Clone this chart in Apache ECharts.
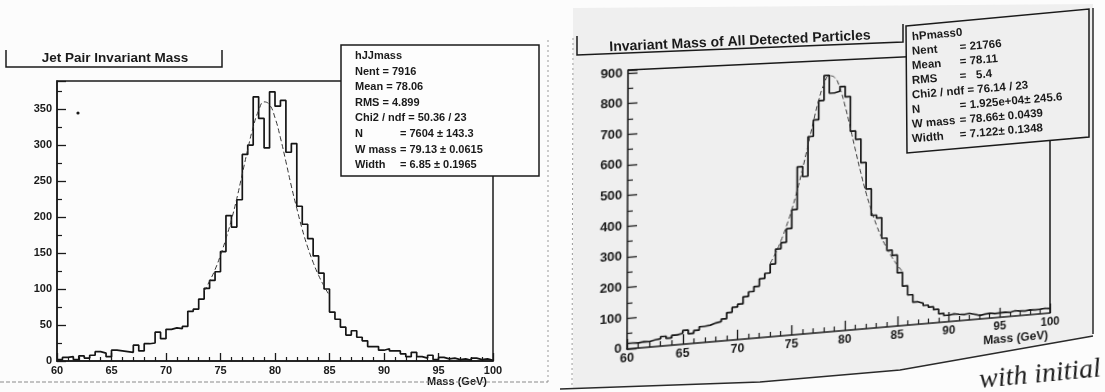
<!DOCTYPE html>
<html>
<head>
<meta charset="utf-8">
<title>Invariant mass histograms</title>
<script src="https://cdn.jsdelivr.net/npm/echarts@6/dist/echarts.min.js"></script>
<style>
  html, body { margin: 0; padding: 0; background: #fcfcfc; overflow: hidden; }
  #page, #right { position: absolute; left: 0; top: 0; width: 1105px; height: 392px; }
  #right { transform-origin: 0 0; }
  #caption {
    position: absolute; left: 980px; top: 365px; white-space: nowrap;
    font: italic 28px/28px 'Liberation Serif', 'DejaVu Serif', serif; color: #1c1c1c;
    transform-origin: 0 23px; transform: rotate(-5.5deg);
  }
</style>
</head>
<body>
<div id="page"></div>
<div id="right"></div>
<div id="caption">with initial</div>
<script>
// both histograms: 80 bins of 0.5 GeV from 60 to 100
const binStart = 60;
const binWidth = 0.5;

// hJJmass - jet pair invariant mass, entries per bin
const jjCounts = [
  2, 5, 6, 2, 7, 4, 8, 13, 11, 6,
  15, 14, 13, 12, 22, 14, 24, 25, 40, 31,
  44, 46, 45, 48, 69, 72, 86, 101, 112, 124,
  152, 202, 186, 224, 287, 300, 367, 337, 296, 374,
  354, 362, 290, 302, 215, 190, 170, 146, 122, 100,
  68, 58, 47, 36, 42, 33, 28, 20, 20, 15,
  17, 14, 14, 10, 6, 12, 6, 4, 8, 2,
  5, 3, 4, 2, 3, 1, 4, 2, 3, 1
];
// fitted curve drawn over hJJmass
const jjFitMass = [73.5, 74, 74.5, 75, 75.5, 76, 76.5, 77, 77.5, 78, 78.5, 79,
                   79.5, 80, 80.5, 81, 81.5, 82, 82.5, 83, 83.5, 84, 84.5, 85];
const jjFitValue = [97, 111, 127, 147, 170, 196, 226, 260, 294, 325, 348, 360,
                    356, 338, 310, 277, 243, 212, 183, 158, 137, 119, 104, 91];

// hPmass0 - invariant mass of all detected particles, entries per bin
const allCounts = [
  18, 17, 19, 18, 22, 24, 31, 24, 32, 36,
  45, 33, 42, 53, 55, 61, 64, 72, 92, 108,
  117, 140, 155, 171, 195, 212, 241, 290, 310, 355,
  417, 559, 526, 658, 713, 777, 860, 800, 805, 820,
  785, 668, 640, 560, 470, 380, 370, 300, 258, 240,
  180, 133, 102, 76, 70, 62, 55, 45, 30, 22,
  25, 22, 20, 22, 18, 12, 15, 17, 14, 15,
  16, 14, 18, 16, 14, 17, 15, 16, 18, 15
];
const allFitMass = [73, 73.5, 74, 74.5, 75, 75.5, 76, 76.5, 77, 77.5, 78, 78.5, 79,
                    79.5, 80, 80.5, 81, 81.5, 82, 82.5, 83, 83.5, 84, 84.5, 85, 85.5];
const allFitValue = [244, 277, 317, 364, 418, 481, 552, 629, 707, 778, 831, 858, 852,
                     815, 753, 679, 601, 526, 457, 398, 346, 302, 265, 233, 206, 183];

const jjStats = ['hJJmass', 'Nent = 7916', 'Mean = 78.06', 'RMS = 4.899', 'Chi2 / ndf = 50.36 / 23',
                 'N\t= 7604 ± 143.3', 'W mass\t= 79.13 ± 0.0615', 'Width\t= 6.85 ± 0.1965'];
const allStats = ['hPmass0', 'Nent\t= 21766', 'Mean\t= 78.11', 'RMS\t=   5.4', 'Chi2 / ndf = 76.14 / 23',
                  'N\t= 1.925e+04± 245.6', 'W mass\t= 78.66± 0.0439', 'Width\t= 7.122± 0.1348'];

const FONT = "'Liberation Sans', Arial, sans-serif";
const INK = '#1a1a1a';
const PAD = '#efefef';

function steps(counts) {
  const pts = counts.map((c, i) => [binStart + i * binWidth, c]);
  pts.push([binStart + counts.length * binWidth, counts[counts.length - 1]]);
  return pts;
}
function pairs(xs, ys) { return xs.map((x, i) => [x, ys[i]]); }

function massAxis(fs, tick, minor) {
  return {
    type: 'value', min: 60, max: 100, interval: 5,
    axisLine: { lineStyle: { color: INK, width: 1.5 } },
    axisTick: { inside: true, length: tick, lineStyle: { color: INK, width: 1.3 } },
    minorTick: { show: true, splitNumber: 5, length: minor, lineStyle: { color: INK, width: 1.2 } },
    axisLabel: { color: INK, fontFamily: FONT, fontWeight: 'bold', fontSize: fs, margin: 4 },
    splitLine: { show: false }
  };
}
function countAxis(max, step, fs) {
  return {
    type: 'value', min: 0, max: max, interval: step,
    axisLine: { show: true, lineStyle: { color: INK, width: 1.5 } },
    axisTick: { inside: true, length: 9, lineStyle: { color: INK, width: 1.3 } },
    minorTick: { show: true, splitNumber: 2, length: 5, lineStyle: { color: INK, width: 1.2 } },
    axisLabel: { color: INK, fontFamily: FONT, fontWeight: 'bold', fontSize: fs, margin: 5, showMaxLabel: false },
    splitLine: { show: false }
  };
}
function histSeries(counts) {
  return { type: 'line', step: 'end', data: steps(counts), symbol: 'none',
           lineStyle: { color: '#151515', width: 1.7 }, z: 3 };
}
function fitSeries(xs, ys) {
  return { type: 'line', smooth: true, data: pairs(xs, ys), symbol: 'none',
           lineStyle: { color: '#333', width: 1, type: [5, 3] }, z: 4 };
}

// stats box lines; '\t' puts the value at a fixed column
function statsText(lines, x, y0, dy, tab, size, rot) {
  const out = [];
  const font = 'bold ' + size + 'px ' + FONT;
  lines.forEach((line, i) => {
    const ax = x, ay = y0 + i * dy;
    const parts = line.split('\t');
    const mk = (t, px, py) => ({
      type: 'text', x: px, y: py, rotation: rot, z: 30,
      style: { text: t, x: 0, y: 0, font: font, fill: INK,
               textAlign: 'left', textVerticalAlign: 'middle', align: 'left', verticalAlign: 'middle' }
    });
    out.push(mk(parts[0], ax, ay));
    if (parts.length > 1) {
      out.push(mk(parts[1], ax + tab * Math.cos(rot), ay - tab * Math.sin(rot)));
    }
  });
  return out;
}
function poly(points, stroke, width, fill, dash, z) {
  return {
    type: fill ? 'polygon' : 'polyline', z: z === undefined ? 20 : z,
    shape: { points: points },
    style: { stroke: stroke, lineWidth: width, fill: fill || null, lineDash: dash || null }
  };
}

// ---------- page: left histogram + all drawn decorations ----------
const page = echarts.init(document.getElementById('page'));
page.setOption({
  animation: false,
  grid: { left: 57, top: 81, width: 436, height: 280, show: true,
          borderColor: INK, borderWidth: 1.5, backgroundColor: 'transparent' },
  xAxis: Object.assign(massAxis(11, 8, 4), {
    name: 'Mass (GeV)', nameLocation: 'end', nameGap: -6,
    nameTextStyle: { color: INK, fontFamily: FONT, fontWeight: 'bold', fontSize: 11,
                     align: 'right', verticalAlign: 'top', padding: [15, 0, 0, 0] }
  }),
  yAxis: countAxis(389, 50, 11),
  series: [histSeries(jjCounts), fitSeries(jjFitMass, jjFitValue)],
  graphic: { elements: [
    // right pad background and borders
    poly([[573, 8], [1093, 4], [1093, 336], [900, 370], [760, 382], [573, 388]], null, 0, PAD, null, 0),
    poly([[1093, 8], [1093, 334]], '#2a2a2a', 1.5),
    poly([[560, 389], [760, 382], [900, 370], [1093, 336]], '#2a2a2a', 1.3),
    poly([[573, 38], [572, 388]], '#9a9a9a', 1, null, [2, 3]),
    // left pad borders
    poly([[548, 40], [548, 382]], '#9a9a9a', 1, null, [2, 3]),
    poly([[0, 382], [548, 382]], '#8a8a8a', 1, null, [4, 2]),
    // left title
    poly([[6, 50], [6, 67], [222, 67], [222, 50]], INK, 1.5),
    { type: 'text', x: 115, y: 58, z: 30,
      style: { text: 'Jet Pair Invariant Mass', font: 'bold 13.5px ' + FONT, fill: INK,
               textAlign: 'center', textVerticalAlign: 'middle', align: 'center', verticalAlign: 'middle' } },
    // left stats box
    { type: 'rect', z: 25, shape: { x: 341, y: 45, width: 198, height: 131 },
      style: { fill: '#fdfdfd', stroke: INK, lineWidth: 1.5 } },
    ...statsText(jjStats, 355, 56, 15.6, 45, 11, 0),
    { type: 'circle', z: 20, shape: { cx: 78, cy: 113, r: 1.6 }, style: { fill: INK } },
    // right frame top and right edge (left and bottom are the axes)
    poly([[628, 70], [1050, 50], [1050, 313]], INK, 1.5),
    // right title
    poly([[577, 36], [577, 55], [903, 42], [903, 24]], INK, 1.5),
    { type: 'text', x: 740, y: 41.5, rotation: 0.045, z: 30,
      style: { text: 'Invariant Mass of All Detected Particles', font: 'bold 14px ' + FONT, fill: INK,
               textAlign: 'center', textVerticalAlign: 'middle', align: 'center', verticalAlign: 'middle' } },
    // right stats box
    poly([[906, 26], [1089, 9], [1089, 137], [907, 153]], INK, 1.5, PAD, null, 25),
    ...statsText(allStats, 912, 37, 14.6, 48, 11.5, 0.086)
  ] }
});

// ---------- right histogram, warped like the scanned page ----------
const src = { left: 628, top: 70, width: 422, height: 279 };
const dst = [[628, 70], [1050, 50], [1050, 313], [627, 349]];

function squareToQuad(q) {
  const [x0, y0] = q[0], [x1, y1] = q[1], [x2, y2] = q[2], [x3, y3] = q[3];
  const dx1 = x1 - x2, dx2 = x3 - x2, dx3 = x0 - x1 + x2 - x3;
  const dy1 = y1 - y2, dy2 = y3 - y2, dy3 = y0 - y1 + y2 - y3;
  const den = dx1 * dy2 - dx2 * dy1;
  const g = (dx3 * dy2 - dx2 * dy3) / den;
  const h = (dx1 * dy3 - dx3 * dy1) / den;
  return [[x1 - x0 + g * x1, x3 - x0 + h * x3, x0],
          [y1 - y0 + g * y1, y3 - y0 + h * y3, y0],
          [g, h, 1]];
}
function mul3(a, b) {
  return a.map((row) => [0, 1, 2].map((j) => row[0] * b[0][j] + row[1] * b[1][j] + row[2] * b[2][j]));
}
const S = [[1 / src.width, 0, -src.left / src.width], [0, 1 / src.height, -src.top / src.height], [0, 0, 1]];
const H = mul3(squareToQuad(dst), S);
document.getElementById('right').style.transform = 'matrix3d(' + [
  H[0][0], H[1][0], 0, H[2][0],
  H[0][1], H[1][1], 0, H[2][1],
  0, 0, 1, 0,
  H[0][2], H[1][2], 0, H[2][2]
].join(',') + ')';

const right = echarts.init(document.getElementById('right'));
right.setOption({
  animation: false,
  grid: Object.assign({ show: false }, src),
  xAxis: Object.assign(massAxis(12, 10, 5), {
    name: 'Mass (GeV)', nameLocation: 'end', nameGap: -2,
    nameTextStyle: { color: INK, fontFamily: FONT, fontWeight: 'bold', fontSize: 12.5,
                     align: 'right', verticalAlign: 'top', padding: [17, 0, 0, 0] }
  }),
  yAxis: countAxis(910, 100, 12.5),
  series: [histSeries(allCounts), fitSeries(allFitMass, allFitValue)]
});
</script>
</body>
</html>
